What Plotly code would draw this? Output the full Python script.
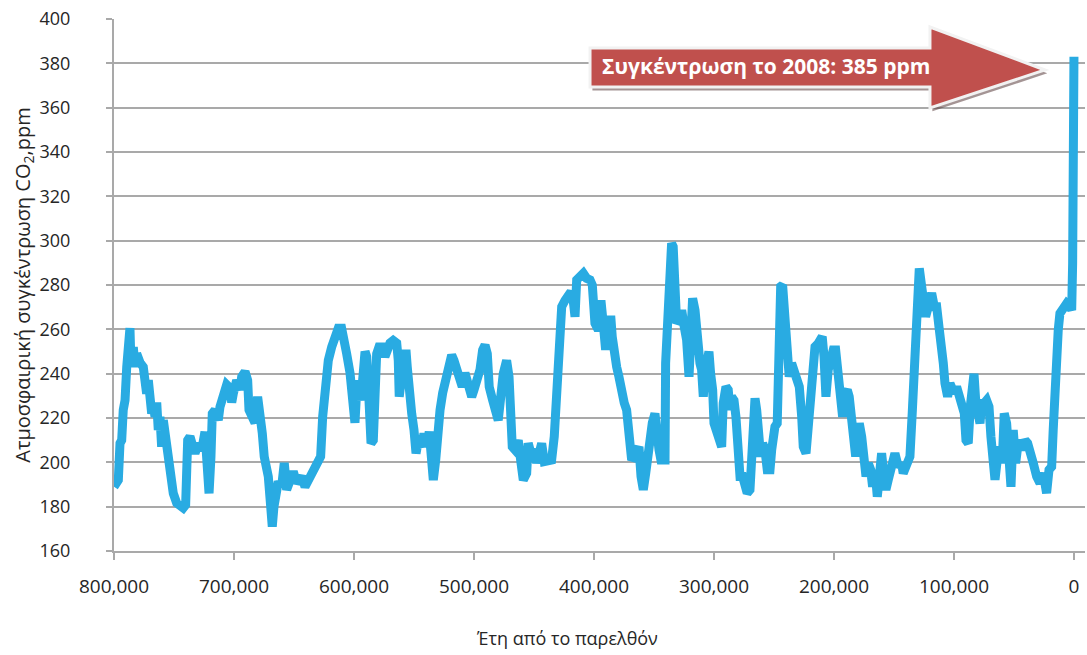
import plotly.graph_objects as go

# Years before present (thousands) and CO2 concentration (ppm)
years_k = [800, 796.4, 795, 793.6, 792.3, 790.8, 789.4, 788.1, 786.7, 785.8, 783.9, 782.5, 781.1,
           778.3, 775.6, 774.2, 772.8, 771.4, 770, 768.6, 767.3, 765.8, 764.4, 763.1, 761.7, 760.3,
           758.9, 757.5, 756.1, 753.3, 750.6, 747.8, 745, 742.3, 740.3, 739.4, 738.6, 736.7, 734.8,
           732.5, 729.8, 726.9, 724.2, 722.8, 720.8, 719.2, 718.1, 715.8, 713.1, 711.7, 708.9, 706.1,
           703.3, 701.9, 700.6, 697.8, 695, 693.6, 690.8, 688.6, 687.5, 685.3, 682.5, 680.3, 678.3,
           676.4, 674.8, 671.4, 669.4, 668.1, 666.7, 665.3, 663.1, 660.3, 658.1, 656.1, 653.3, 650.6,
           647.8, 643.6, 640.8, 638.1, 635.3, 632.5, 629.8, 627.8, 626.1, 624.2, 621.4, 618.6, 615.8,
           613.1, 610.3, 608.3, 606.1, 603.3, 601.1, 599.2, 597.3, 595, 592.8, 590.8, 589.4, 587.5,
           585.8, 583.9, 582.5, 581.1, 579.2, 576.4, 574.2, 572.3, 570, 567.3, 564.4, 563.1, 562.3,
           560.3, 558.3, 556.7, 555.6, 553.9, 551.9, 550, 548.3, 546.4, 543.6, 541.7, 539.4, 537.3,
           535.8, 533.9, 531.9, 530.3, 528.3, 526.1, 523.3, 520.6, 518.6, 516.7, 514.4, 511.7, 509.8,
           507.5, 504.8, 501.9, 500, 497.8, 495, 492.8, 490.8, 488.9, 487.3, 484.4, 481.1, 479.8,
           475.6, 472.8, 470.8, 469.2, 468.1, 465.8, 463.1, 460.8, 458.9, 456.1, 454.8, 452.5, 449.8,
           447.8, 445.8, 443.6, 441.4, 438.6, 435.3, 433.1, 431.9, 431.1, 429.8, 428.3, 426.9, 424.2,
           421.4, 419.2, 417.3, 415.8, 414.4, 411.7, 408.9, 406.1, 403.3, 401.4, 400, 399.2, 396.4,
           394.2, 392.3, 390.3, 388.1, 385.8, 384.8, 383.1, 381.1, 379.2, 376.9, 374.8, 372.8, 371.4,
           370, 368.6, 366.4, 364.4, 362.5, 360.8, 358.9, 356.9, 355.3, 353.3, 351.4, 349.2, 347.8,
           345.8, 344.2, 340.8, 340.3, 338.6, 336.7, 335.3, 334, 332.5, 331.1, 329.2, 326.9, 324.8,
           322.8, 320.8, 319.2, 317.8, 315.8, 314.4, 313.1, 311.7, 310.3, 308.9, 307.5, 306.1, 304.2,
           302.8, 301.1, 300, 297.8, 295.6, 293.6, 292.3, 290, 288.1, 286.7, 285.3, 283.3, 281.7,
           279.8, 278.3, 276.1, 274.2, 272.3, 270, 268.6, 267.3, 265.8, 264.4, 263.1, 261.1, 259.4,
           257.5, 255.6, 253.3, 251.9, 251.1, 249.2, 247.3, 246.4, 245.6, 244.4, 242.8, 241.4, 240,
           238.6, 237.3, 235.3, 233.3, 231.1, 228.9, 226.9, 225.6, 223.3, 221.4, 219.4, 218.1, 215.8,
           213.1, 211.1, 209.8, 208.3, 206.7, 204.8, 202.8, 200.6, 198.6, 197.3, 195.6, 194.4, 192.8,
           190.8, 188.9, 187.3, 185.3, 183.9, 181.9, 180.6, 178.9, 176.9, 175, 173.3, 171.4, 169.4,
           167.8, 165.8, 163.9, 162.3, 160.3, 158.3, 156.7, 154.8, 151.9, 149.2, 146.4, 143.6, 142.3,
           139.4, 136.7, 134.8, 133.1, 131.9, 130.6, 128.9, 126.9, 125.6, 123.6, 121.4, 118.6, 116.4,
           114.4, 112.5, 110.3, 108.9, 107.5, 105.3, 103.3, 101.9, 99.8, 97.8, 95.8, 93.6, 91.4,
           90, 88.1, 86.4, 84.8, 83.3, 81.9, 80.3, 78.3, 76.9, 74.8, 72.8, 70.8, 69.2,
           68.1, 65.8, 63.6, 61.7, 59.8, 58.1, 56.1, 54.2, 52.5, 50.6, 48.6, 46.9, 45,
           43.1, 40.8, 38.6, 36.7, 33.9, 31.1, 28.3, 25.6, 22.8, 20.8, 18.6, 17.3, 15.8,
           14.4, 13.1, 11.7, 8.9, 6.1, 3.3, 1.9, 1.1, 0.6, 0.25, 0]

co2_ppm = [189, 192, 208.6, 210, 223.6, 228, 243, 258, 260.5, 243, 252, 243, 249,
           245, 243, 237, 231, 237, 228, 222, 225, 220.6, 227, 214.6, 220.6, 207,
           219, 213, 205.6, 195, 186, 181.7, 180.8, 179.4, 180.8, 198, 210, 211.6, 205.6,
           204, 208.6, 205.6, 213.8, 205.6, 186, 202.6, 222, 223.6, 219, 225, 229.6, 235,
           233.5, 227, 231, 237, 232.7, 238.6, 240.9, 237, 223.6, 220, 217.8, 229.6, 223.6,
           213, 202.6, 193.6, 180, 171, 180, 189, 191.3, 189, 199.7, 187.6, 192, 195.8,
           190.7, 193.6, 189, 192, 193.6, 198, 199.7, 202.6, 220.6, 237, 246, 252, 256.7,
           260.5, 260.5, 256.7, 249, 240.3, 231.3, 217.8, 237, 228, 237, 250, 247.7, 228,
           208.6, 210, 231.3, 249, 252, 252, 247.7, 252, 253.8, 255, 253.8, 246, 229.6,
           238.6, 246, 250.7, 243, 228, 222, 214.6, 204, 210, 207, 213, 207, 213.8,
           207, 192, 201, 216, 223.6, 231.3, 238.6, 243, 248.4, 246, 241.7, 237, 234.1,
           240.3, 235.8, 229.6, 232.7, 237, 241.7, 250.7, 252.9, 249, 234.1, 228, 220.6, 219,
           240, 246, 238.6, 220.6, 207, 205.6, 210, 199.7, 192, 195, 208.6, 204, 205.6,
           199.7, 207, 208.6, 200.3, 201, 201, 211.6, 226.8, 240, 249.2, 264.2, 270.2, 273,
           274.7, 277, 273, 265.7, 282.3, 283.8, 285.3, 283, 282.3, 280, 273, 262.7, 259.7,
           273, 262.7, 250.7, 264.2, 264.2, 256.7, 247.7, 243, 238.6, 229.6, 226.8, 223.6, 217.8,
           208.6, 201, 202.6, 205.6, 207, 193.6, 187.6, 195, 204, 211.6, 217.8, 222, 211.6,
           205.6, 201, 201, 244.7, 259.7, 285.3, 298.8, 297.3, 279.3, 262.7, 264.2, 268.7, 261.2,
           255.2, 238.6, 259.7, 274, 268.7, 256.7, 255.2, 244.7, 241.7, 229.6, 240, 249.2, 250,
           240, 232.7, 217.6, 213.1, 208.6, 207, 226.7, 234.1, 232.7, 223.6, 229.6, 228, 220.6,
           205.6, 193.6, 193.6, 189, 186.1, 187.6, 208.6, 214.6, 228.9, 223.6, 208.6, 202.6, 208.6,
           205.6, 196.6, 196.6, 205.6, 214.6, 216.1, 217.6, 241.7, 247.7, 279.3, 280, 270.2, 255.2,
           250.7, 238.6, 244.7, 241.7, 235.7, 234.1, 220.6, 207, 204.1, 214.6, 226.7, 240, 252.2,
           253.7, 256.7, 256.7, 247.7, 229.6, 241.7, 246.2, 250.7, 250.7, 244.7, 237.2, 226.7, 220.6,
           231.2, 232.7, 229.6, 220.6, 213.1, 202.6, 211.6, 217.6, 211.6, 196.6, 193.6, 199.6, 196.6,
           189, 196.6, 184.5, 196.6, 204.1, 193.6, 187.6, 192, 199.6, 204.1, 198, 199.6, 195.1,
           199.6, 202.6, 222.1, 244.7, 265.7, 283.8, 287.5, 279.3, 268.7, 265.7, 270.2, 276.3, 270.2,
           270.2, 261.2, 253.7, 244.7, 235.6, 229.6, 235.6, 234.1, 231.2, 234.1, 229.6, 226.7, 222.1,
           210, 208.6, 225.1, 240, 240, 228, 220.6, 217.6, 228, 226.7, 228, 225.1, 211.6,
           199.6, 192.1, 202.6, 207, 199.6, 222.1, 217.6, 199.6, 189, 214.6, 199.6, 207, 210,
           205.6, 210, 208.6, 205.6, 199.6, 193.6, 190.6, 195.1, 186.1, 196.6, 198, 214.6, 237.2,
           246.2, 259.7, 267.2, 270.2, 271.7, 270.2, 268.7, 289.8, 334.9, 365, 383]

x_tick_vals = [800, 700, 600, 500, 400, 300, 200, 100, 0]
x_tick_text = ["800,000", "700,000", "600,000", "500,000", "400,000",
               "300,000", "200,000", "100,000", "0"]
y_tick_vals = [160, 180, 200, 220, 240, 260, 280, 300, 320, 340, 360, 380, 400]

arrow_label = "Συγκέντρωση το 2008: 385 ppm"
x_title = "Έτη από το παρελθόν"
y_title = "Ατμοσφαιρική συγκέντρωση CO<sub>2</sub>,ppm"

LINE_BLUE = "#29ABE2"
ARROW_RED = "#C0504D"
GRID = "#A9A9A9"
TEXT = "#262626"
FONT = "Open Sans, Noto Sans, sans-serif"

fig = go.Figure()
fig.add_trace(go.Scatter(
    x=years_k, y=co2_ppm, mode="lines",
    line=dict(color=LINE_BLUE, width=9, shape="linear"),
    hoverinfo="skip", showlegend=False, cliponaxis=False,
))

# Arrow (body + head), in data coordinates
bx0, bx1, tip = 403.3, 120.0, 24.2
by0, by1, hy0, hy1, ty = 369.3, 386.9, 359.9, 396.4, 377.0
arrow_path = (f"M {bx0},{by1} L {bx1},{by1} L {bx1},{hy1} L {tip},{ty} "
              f"L {bx1},{hy0} L {bx1},{by0} L {bx0},{by0} Z")
sdx, sdy = 2.0, 1.5
shadow_path = (f"M {bx0-sdx},{by1-sdy} L {bx1-sdx},{by1-sdy} L {bx1-sdx},{hy1-sdy} L {tip-sdx},{ty-sdy} "
               f"L {bx1-sdx},{hy0-sdy} L {bx1-sdx},{by0-sdy} L {bx0-sdx},{by0-sdy} Z")
fig.add_shape(type="path", path=shadow_path, xref="x", yref="y",
              fillcolor="rgba(90,60,60,0.55)", line=dict(width=0), layer="above")
fig.add_shape(type="path", path=arrow_path, xref="x", yref="y",
              fillcolor=ARROW_RED, line=dict(color="#F2F2F2", width=3), layer="above")
fig.add_annotation(x=(bx0 + bx1) / 2 - 5, y=378.6, xref="x", yref="y",
                   text=f"<b>{arrow_label}</b>", showarrow=False,
                   font=dict(family=FONT, size=21, color="white"))

# Axis titles
fig.add_annotation(x=-0.094, y=0.5, xref="paper", yref="paper", text=y_title,
                   textangle=-90, showarrow=False, xanchor="center", yanchor="middle",
                   font=dict(family=FONT, size=20, color=TEXT))
fig.add_annotation(x=0.467, y=-0.163, xref="paper", yref="paper", text=x_title,
                   showarrow=False, xanchor="center", yanchor="middle",
                   font=dict(family=FONT, size=18, color=TEXT))

fig.update_layout(
    width=1087, height=655,
    margin=dict(l=114, r=2, t=19, b=104, autoexpand=False),
    paper_bgcolor="white", plot_bgcolor="white",
    font=dict(family=FONT, color=TEXT),
    xaxis=dict(
        range=[800, -9.2], tickvals=x_tick_vals, ticktext=x_tick_text,
        showgrid=False, zeroline=False, automargin=False,
        showline=True, linecolor=GRID, linewidth=2,
        ticks="outside", ticklen=7, tickcolor=GRID, tickwidth=1.5,
        tickfont=dict(size=19, color=TEXT), ticklabelstandoff=10,
    ),
    yaxis=dict(
        range=[160, 400], tickvals=y_tick_vals, automargin=False,
        showgrid=True, gridcolor=GRID, gridwidth=2,
        zeroline=False, showline=True, linecolor=GRID, linewidth=2,
        ticks="outside", ticklen=6, tickcolor=GRID, tickwidth=1.5,
        tickfont=dict(size=18, color=TEXT), ticklabelstandoff=32,
    ),
)

fig.write_html("out.html", config={"displayModeBar": False},
               post_script="document.body.style.margin='0';document.body.style.overflow='hidden';")
